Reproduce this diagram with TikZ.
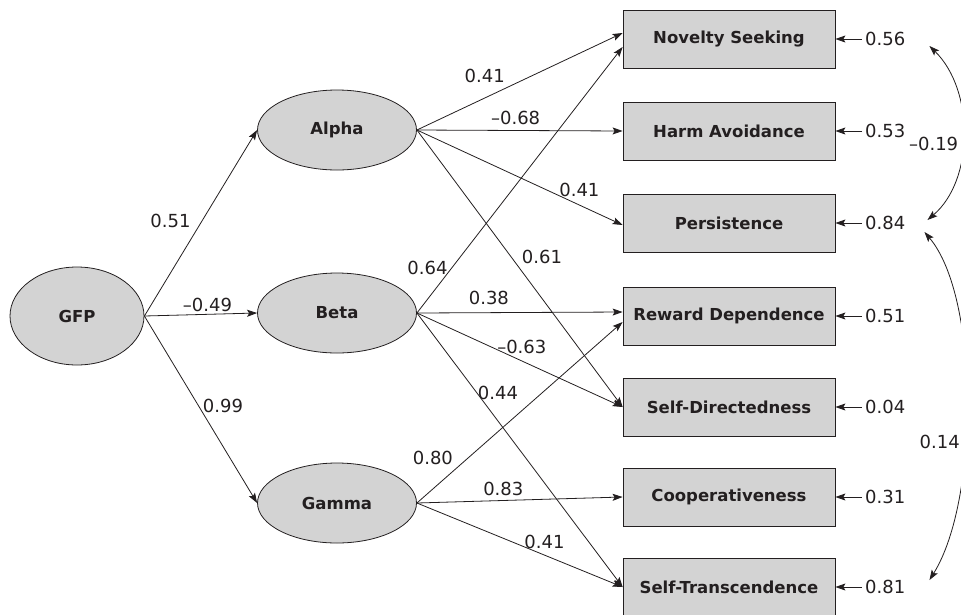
\documentclass[tikz,border=0pt]{standalone}
\usepackage{fontspec}
\setmainfont{DejaVu Sans}
\usetikzlibrary{shapes.geometric, arrows.meta}
\definecolor{shade}{RGB}{211,211,211}
\definecolor{ink}{RGB}{35,31,32}
\tikzstyle{latent} = [ellipse, minimum width=159pt, minimum height=80pt, inner sep=0pt, draw=ink, line width=0.8pt, fill=shade, text=ink, font=\fontsize{16.5}{19}\selectfont\bfseries]
\tikzstyle{trait} = [rectangle, minimum width=212pt, minimum height=58pt, draw=ink, line width=0.8pt, fill=shade, text=ink, font=\fontsize{16.5}{19}\selectfont\bfseries]
\tikzstyle{coef} = [inner sep=1pt, text=ink, font=\fontsize{18}{21}\selectfont]
\tikzstyle{err} = [inner sep=3pt, anchor=west, text=ink, font=\fontsize{18}{21}\selectfont]
\tikzstyle{arrow} = [line width=0.8pt, draw=ink, -{Stealth[length=10pt,width=7pt,inset=2pt]}]
\tikzstyle{corr} = [line width=0.8pt, draw=ink, {Stealth[length=10pt,width=7pt,inset=2pt]}-{Stealth[length=10pt,width=7pt,inset=2pt]}]

\begin{document}
\begin{tikzpicture}[x=1pt,y=-1pt]
\useasboundingbox (0,0) rectangle (961,614);

% latent factors
\node (gfp) [latent, minimum width=134pt, minimum height=98pt] at (77,316) {GFP};
\node (alpha) [latent] at (337,130) {Alpha};
\node (beta) [latent] at (337,313) {Beta};
\node (gamma) [latent] at (337,503) {Gamma};

% TCI scales
\node (ns) [trait] at (729,39) {Novelty Seeking};
\node (ha) [trait] at (729,131) {Harm Avoidance};
\node (ps) [trait] at (729,223) {Persistence};
\node (rd) [trait] at (729,316) {Reward Dependence};
\node (sd) [trait] at (729,407) {Self-Directedness};
\node (co) [trait] at (729,497) {Cooperativeness};
\node (st) [trait] at (729,587) {Self-Transcendence};

% residuals
\node (ens) [err] at (862,39) {0.56};
\node (eha) [err] at (862,131) {0.53};
\node (eps) [err] at (862,223) {0.84};
\node (erd) [err] at (862,316) {0.51};
\node (esd) [err] at (862,407) {0.04};
\node (eco) [err] at (862,497) {0.31};
\node (est) [err] at (862,587) {0.81};

% higher order
\draw [arrow] (gfp.east) -- node[coef,pos=0.51,left=10pt] {0.51} (alpha.west);
\draw [arrow] (gfp.east) -- node[coef,pos=0.56,above=1pt] {\textendash0.49} (beta.west);
\draw [arrow] (gfp.east) -- node[coef,pos=0.48,right=3pt] {0.99} (gamma.west);

% alpha
\draw [arrow] (alpha.east) -- node[coef,pos=0.33,above=14pt] {0.41} ([yshift=6pt]ns.west);
\draw [arrow] (alpha.east) -- node[coef,pos=0.48,above=4pt] {\textendash0.68} (ha.west);
\draw [arrow] (alpha.east) -- node[coef,pos=0.79,above=7pt] {0.41} ([yshift=-2pt]ps.west);
\draw [arrow] (alpha.east) -- node[coef,pos=0.46,right=9pt] {0.61} (sd.west);

% beta
\draw [arrow] (beta.east) -- node[coef,pos=0.17,left=3pt] {0.64} ([yshift=-8pt]ns.west);
\draw [arrow] (beta.east) -- node[coef,pos=0.35,above=7pt] {0.38} ([yshift=4pt]rd.west);
\draw [arrow] (beta.east) -- node[coef,pos=0.51,above=6pt] {\textendash0.63} (sd.west);
\draw [arrow] (beta.east) -- node[coef,pos=0.29,right=0pt] {0.44} (st.west);

% gamma
\draw [arrow] (gamma.east) -- node[coef,pos=0.25,left=14pt] {0.80} ([yshift=-6pt]rd.west);
\draw [arrow] (gamma.east) -- node[coef,pos=0.42,above=3pt] {0.83} (co.west);
\draw [arrow] (gamma.east) -- node[coef,pos=0.62,above=5pt] {0.41} (st.west);

% residual arrows
\draw [arrow] (ens.west) -- (ns.east);
\draw [arrow] (eha.west) -- (ha.east);
\draw [arrow] (eps.west) -- (ps.east);
\draw [arrow] (erd.west) -- (rd.east);
\draw [arrow] (esd.west) -- (sd.east);
\draw [arrow] (eco.west) -- (co.east);
\draw [arrow] (est.west) -- (st.east);

% correlated residuals
\draw [corr] ([shift={(21,7)}]ens.east) .. controls +(45,44) and +(47,-40) .. node[coef,pos=0.55,left=3pt] {\textendash0.19} ([shift={(19,-3)}]eps.east);
\draw [corr] ([shift={(16,9)}]eps.east) .. controls +(55,65) and +(50,-80) .. node[coef,pos=0.6,left=4pt] {0.14} ([shift={(21,-7)}]est.east);
\end{tikzpicture}
\end{document}
